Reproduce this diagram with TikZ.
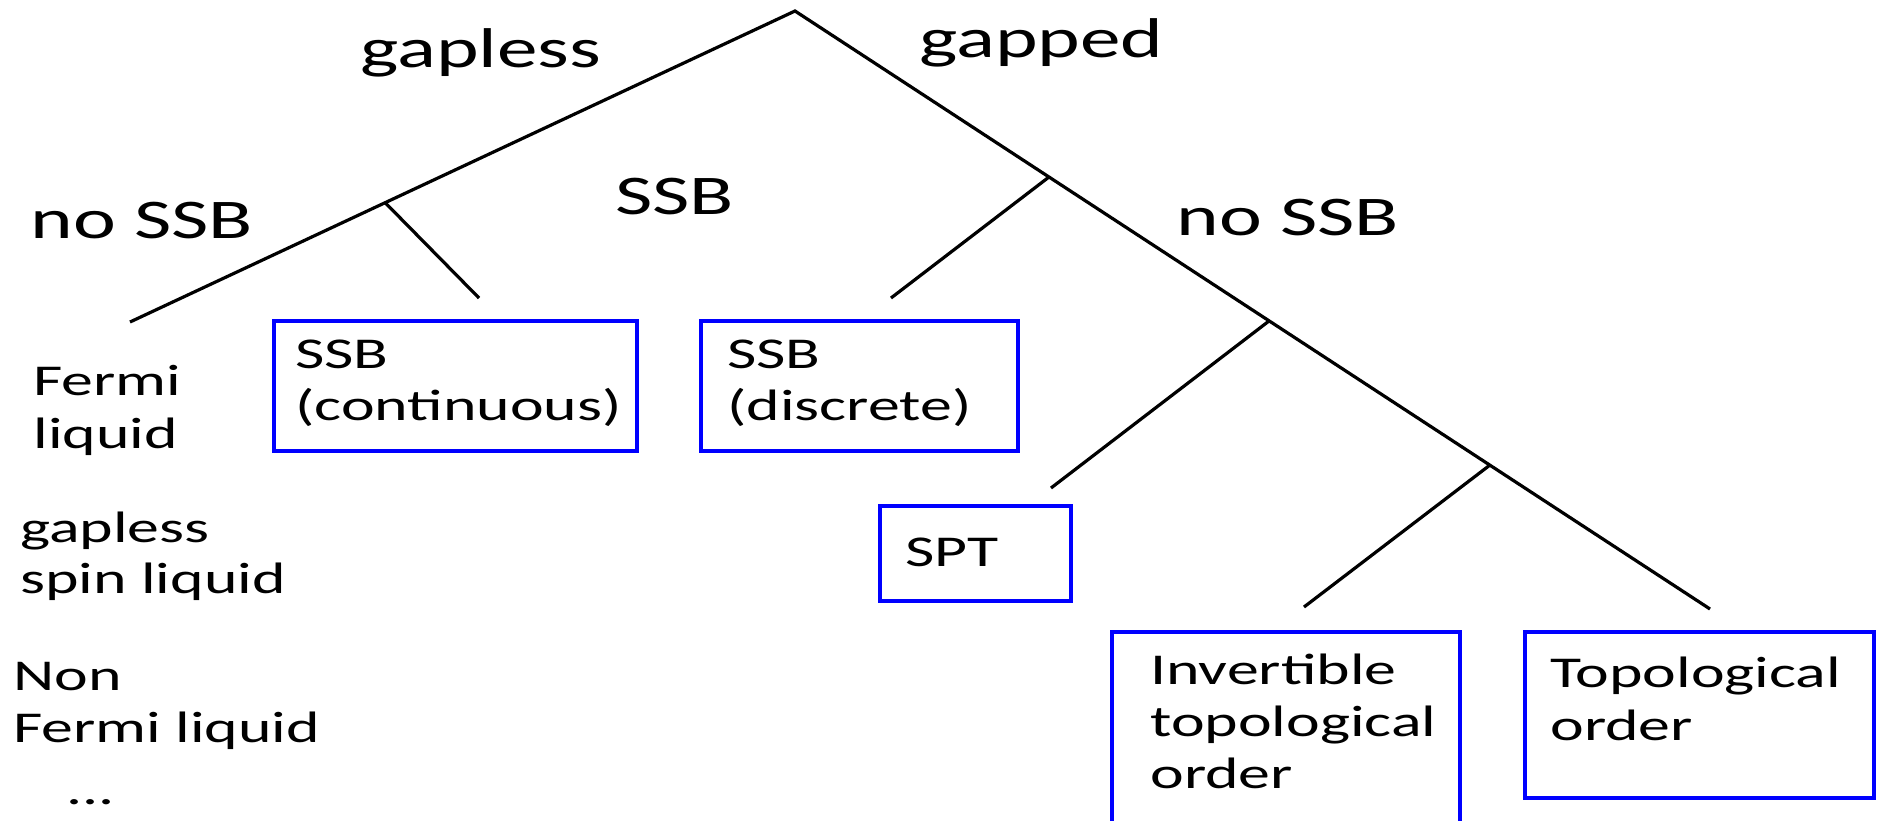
\documentclass[tikz,border=0pt]{standalone}
\usepackage{fontspec}
\setmainfont{Carlito}[FakeStretch=1.45]
\usetikzlibrary{fit}
\begin{document}
\begin{tikzpicture}[x=0.5pt,y=-0.5pt,
  branch/.style={line width=1.6pt, black},
  box/.style={draw=blue, line width=1.8pt, inner sep=0pt},
  big/.style={font=\fontsize{28}{32}\selectfont, anchor=base west, inner sep=0pt},
  small/.style={font=\fontsize{22}{26}\selectfont, anchor=base west, inner sep=0pt}]
\useasboundingbox (0,0) rectangle (1885,820);
\clip (0,0) rectangle (1885,820);
% tree coordinates
\coordinate (top) at (795,11);
\coordinate (lend) at (130,322);
\coordinate (rend) at (1710,609);
\coordinate (b1) at (385,202.5);
\coordinate (b1e) at (479,298);
\coordinate (b2) at (1049,177);
\coordinate (b2e) at (891,298);
\coordinate (b3) at (1269,321);
\coordinate (b3e) at (1051,488);
\coordinate (b4) at (1490,465);
\coordinate (b4e) at (1304,607);
\draw[branch] (lend) -- (top) -- (rend);
\draw[branch] (b1) -- (b1e);
\draw[branch] (b2) -- (b2e);
\draw[branch] (b3) -- (b3e);
\draw[branch] (b4) -- (b4e);
% labels
\node[big] (gapless) at (360,67) {gapless};
\node[big] (gapped) at (919,57) {gapped};
\node[big] (nossbL) at (30,238) {no SSB};
\node[big] (ssbM) at (615,214) {SSB};
\node[big] (nossbR) at (1176,235) {no SSB};
% boxes
\node[box, fit={(274,321) (637,451)}] (cont) {};
\node[box, fit={(701,321) (1018,451)}] (disc) {};
\node[box, fit={(880,506) (1071,601)}] (spt) {};
\node[box, fit={(1112,632) (1460,840)}] (inv) {};
\node[box, fit={(1525,632) (1874,798)}] (topo) {};
% box texts
\node[small] (contA) at (295,368) {SSB};
\node[small] (contB) at (295,420) {(continuous)};
\node[small] (discA) at (727,368) {SSB};
\node[small] (discB) at (727,420) {(discrete)};
\node[small] (sptA) at (905,566) {SPT};
\node[small] (invA) at (1150,684) {Invertible};
\node[small] (invB) at (1150,736) {topological};
\node[small] (invC) at (1150,788) {order};
\node[small] (topoA) at (1550,687) {Topological};
\node[small] (topoB) at (1550,740) {order};
% left list
\node[small] (fl1) at (33,395) {Fermi};
\node[small] (fl2) at (33,448) {liquid};
\node[small] (gs1) at (20,542) {gapless};
\node[small] (gs2) at (20,593) {spin liquid};
\node[small] (nf1) at (13,690) {Non};
\node[small] (nf2) at (13,742) {Fermi liquid};
\node[small] (dots) at (66,804) {...};
\end{tikzpicture}
\end{document}
